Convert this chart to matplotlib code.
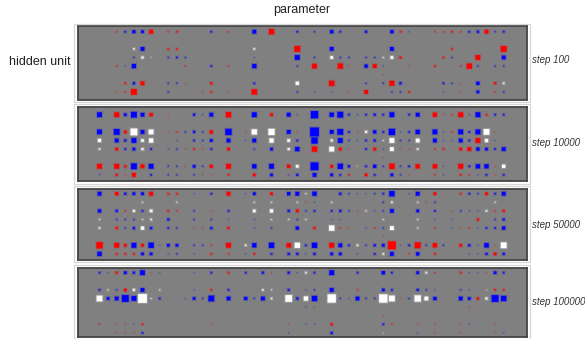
import matplotlib
matplotlib.use("Agg")
import matplotlib.pyplot as plt
from matplotlib.patches import Rectangle

plt.rcParams['font.family'] = ['Liberation Sans', 'DejaVu Sans']

W, H = 585, 339
N_COLS, N_ROWS = 52, 8
COLOURS = {'r': '#ff0000', 'b': '#0000ff', 'w': '#ffffff'}

step_labels = ['step 100', 'step 10000', 'step 50000', 'step 100000']

# Each entry: (column, colour, weight magnitude); one list per hidden unit (row).
step100 = [
    [(4,'r',1.5),(5,'b',2),(6,'b',3.3),(7,'b',3),(8,'r',4.2),(10,'r',1.5),(11,'r',2),(15,'b',2),(17,'r',1.5),(20,'b',4),(22,'r',5.5),(25,'b',2),
     (27,'b',1.5),(29,'b',3.5),(30,'b',2),(33,'b',2.5),(36,'b',3.5),(37,'r',2),(38,'b',1),(41,'r',1.5),(42,'r',1.5),(43,'r',2),(44,'r',1.5),(45,'b',2),(46,'b',2.5),(47,'r',4),(48,'b',1.5),(49,'b',2)],
    [],
    [(6,'w',2),(7,'b',4),(10,'r',2),(11,'r',2),(20,'w',2),(25,'r',6),(29,'b',4),(36,'b',4),(43,'r',2),(49,'r',6)],
    [(6,'b',1.5),(7,'w',2.5),(8,'w',1),(10,'b',1.5),(11,'b',2),(12,'b',1.5),(20,'b',1),(25,'b',5),(27,'b',1.5),(29,'w',3),(30,'b',1.5),(31,'b',1.5),(33,'b',1.5),(34,'b',1.5),(35,'w',1.5),(36,'w',3),(37,'r',2.5),(42,'r',2),(43,'b',1.5),(46,'r',5),(49,'b',4)],
    [(4,'r',1.5),(5,'b',1),(6,'b',4.5),(12,'r',1.5),(15,'b',2),(17,'r',1.5),(20,'b',4.5),(25,'b',1.5),(27,'r',5),(30,'r',5.5),(31,'r',1),(33,'b',3.5),(34,'r',4),(35,'b',1),(38,'r',1),(41,'r',2),(44,'r',1.5),(45,'r',5.5),(46,'b',1.5),(48,'b',1.5),(49,'b',1.5)],
    [(35,'r',1)],
    [(5,'r',2),(6,'b',2.5),(7,'r',4),(10,'b',1.5),(11,'b',1.5),(12,'r',1),(15,'r',2.5),(20,'b',2),(25,'w',3.5),(29,'r',5.5),(33,'b',1.5),(35,'b',1.5),(36,'r',5),(37,'b',2.5),(42,'b',2),(43,'b',1.5),(44,'r',1),(46,'b',3.5),(48,'r',2.5),(49,'w',2)],
    [(4,'r',1),(5,'r',1.5),(6,'r',6),(10,'b',1.5),(14,'r',1),(15,'r',2),(17,'r',1),(20,'r',5.5),(25,'b',1.5),(27,'b',1),(29,'b',1),(31,'r',1),(33,'r',4),(36,'b',1.5),(37,'b',1.5),(38,'r',2),(42,'b',1),(44,'r',1),(46,'b',3),(48,'r',1.5),(49,'b',1.5)],
]

step10000 = [
    [(2,'b',5),(4,'r',5),(5,'b',3),(6,'b',6),(7,'b',4),(8,'r',3.5),(10,'r',1),(13,'b',2.5),(14,'b',1),(15,'b',4),(17,'r',5.5),(20,'b',5),(22,'r',3),(24,'b',4),(25,'b',1),
     (27,'b',7.5),(29,'b',4.5),(30,'b',6),(31,'b',2),(32,'b',1),(33,'b',2),(34,'b',2.5),(35,'b',2),(36,'b',5),(38,'b',2),(39,'b',4),(41,'r',4.5),(42,'r',1),(43,'r',1.5),(44,'r',5),(45,'b',1),(46,'b',5),(47,'r',2),(48,'b',2),(49,'b',2)],
    [],
    [(2,'b',5),(4,'b',6),(5,'r',3),(6,'w',7),(7,'b',4),(8,'w',5),(10,'r',1),(11,'r',1.5),(12,'b',1.5),(13,'b',2.5),(14,'b',1.5),(15,'r',3.5),(17,'b',6.5),(19,'r',1),(20,'w',5.5),(22,'w',6.5),(24,'b',4),(25,'r',1),
     (27,'b',9),(29,'b',4),(30,'b',6),(31,'b',2),(32,'r',1),(33,'w',2.5),(34,'b',3.5),(35,'b',2),(36,'b',6.5),(37,'b',1),(38,'b',2),(39,'b',4.5),(41,'b',5),(42,'b',1),(43,'r',1.5),(44,'b',5),(45,'b',2),(46,'b',5),(47,'w',6),(48,'r',1)],
    [(2,'w',3.5),(4,'b',4),(5,'b',2.5),(6,'b',5),(7,'w',3),(8,'w',4.5),(11,'b',1),(13,'b',2),(14,'b',1.5),(15,'b',3),(17,'b',4),(19,'b',1),(20,'b',4),(22,'w',4.5),(24,'w',3),(25,'b',2),
     (27,'b',6.5),(29,'w',2.5),(30,'b',5),(31,'b',1.5),(32,'b',1),(33,'b',2),(34,'b',2.5),(35,'w',1.5),(36,'w',5),(37,'b',1.5),(38,'b',1.5),(39,'w',4),(41,'b',4),(42,'b',1),(43,'b',1),(44,'b',4),(45,'b',2),(46,'r',5),(47,'w',3.5),(48,'b',1)],
    [(2,'w',2),(4,'r',3),(5,'b',2),(6,'b',3),(7,'w',2.5),(8,'b',2),(10,'b',1),(11,'b',1.5),(12,'r',1),(13,'r',2),(14,'r',1),(15,'b',2),(17,'r',3),(20,'b',1.5),(22,'b',3),(24,'w',2.5),(25,'b',4.5),
     (27,'r',5.5),(29,'w',5),(30,'r',3),(31,'r',1),(33,'b',2),(34,'r',3),(35,'b',1),(36,'w',4),(37,'r',1),(38,'r',1),(39,'w',2),(41,'r',1.5),(42,'r',2),(44,'r',3),(45,'r',4),(46,'b',3.5),(47,'b',3),(48,'b',2),(49,'b',4)],
    [(35,'r',1)],
    [(2,'r',5),(4,'r',5),(5,'r',2.5),(6,'b',6),(7,'r',4),(8,'b',5),(10,'b',1.5),(11,'b',1.5),(12,'r',1),(13,'b',3),(14,'b',1.5),(15,'r',3.3),(17,'r',5),(20,'b',4.5),(22,'b',5),(24,'r',3.5),(25,'w',3),
     (27,'b',8),(29,'r',3),(30,'b',5.5),(31,'b',2.5),(32,'w',1),(33,'b',2),(34,'b',3.5),(35,'b',1.5),(36,'r',5.5),(37,'b',1.5),(38,'b',2),(39,'r',4.5),(41,'r',4.5),(42,'b',1),(44,'r',5),(45,'b',2),(46,'b',4.5),(47,'b',4.5),(48,'r',1),(49,'w',3.5)],
    [(2,'b',1),(4,'r',2.5),(5,'r',1),(6,'r',4),(8,'b',2),(10,'b',1.5),(11,'b',1.5),(13,'b',1.5),(14,'r',1),(15,'r',1),(17,'r',2),(20,'r',3),(22,'b',3),(24,'b',1),(25,'b',2.5),
     (27,'b',4),(29,'b',3),(30,'b',2),(31,'r',2),(33,'r',3),(34,'b',2),(36,'b',3),(37,'b',1.5),(38,'r',1),(41,'r',1.5),(42,'b',1),(44,'r',2),(45,'r',1.5),(46,'b',1),(47,'b',2),(48,'r',1),(49,'b',2)],
]

step50000 = [
    [(2,'b',4),(4,'r',3.5),(5,'b',2.5),(6,'b',3),(7,'b',3),(8,'r',4),(10,'r',2),(11,'r',2),(13,'b',1),(15,'b',2),(17,'r',4),(19,'b',1),(20,'b',3),(22,'r',3),(24,'b',3.5),(25,'b',4),(26,'w',1.5),
     (27,'b',4.5),(30,'b',2.5),(31,'b',1.5),(32,'b',1),(33,'b',1),(34,'b',1.5),(35,'b',2),(36,'b',5.5),(38,'b',1),(39,'b',4),(41,'r',3),(44,'r',2),(45,'b',2),(46,'b',1.5),(47,'r',3),(48,'b',2),(49,'b',4)],
    [(7,'w',1.5),(11,'w',1.5),(20,'w',1.5),(22,'w',1.5),(25,'w',1.5),(26,'r',1),(27,'b',1),(29,'w',1.5),(35,'b',1.5),(36,'w',2),(39,'w',1.5),(40,'r',1),(41,'b',1.5),(48,'w',1.5)],
    [(2,'b',3.5),(4,'b',2.5),(5,'r',1.5),(6,'w',2.5),(7,'b',2),(8,'w',3),(10,'r',2),(11,'r',1.5),(13,'b',1.5),(15,'r',1),(17,'b',2),(20,'w',3),(22,'w',3.5),(24,'b',2.5),(25,'r',3),(26,'b',1.5),
     (27,'b',2),(29,'b',2),(30,'b',2.5),(31,'b',1.5),(32,'r',1),(33,'w',1.5),(34,'b',1),(35,'b',1.5),(36,'b',4),(39,'b',3),(41,'b',2),(43,'r',1),(44,'b',1.5),(45,'b',1),(46,'b',1),(47,'w',2),(48,'r',1.5),(49,'r',2.5)],
    [(2,'w',1.5),(4,'b',1.5),(5,'b',1.5),(6,'b',1.5),(7,'w',1.5),(8,'w',2),(10,'b',2.5),(13,'b',1.5),(15,'b',1.5),(17,'b',1),(20,'b',1),(22,'w',1.5),(24,'w',1.5),(25,'b',1.5),(26,'w',1.5),
     (29,'b',1),(30,'b',1),(35,'w',1.5),(39,'w',1.5),(41,'b',1),(43,'b',1),(46,'r',2.5),(48,'b',1.5),(49,'b',2.5)],
    [(2,'w',2),(4,'r',2.5),(5,'b',1.5),(6,'b',2.5),(7,'w',3.5),(8,'b',2.5),(10,'b',2),(11,'b',1.5),(13,'r',1),(14,'r',1),(15,'b',2.5),(17,'r',2.5),(20,'b',1),(22,'b',1.5),(25,'b',3.5),
     (27,'r',2.5),(29,'w',5.5),(30,'r',1.5),(31,'r',1),(33,'b',1),(34,'r',1.5),(35,'b',1.5),(36,'w',4),(39,'w',1.5),(41,'r',1.5),(43,'b',1),(44,'r',1),(45,'r',1.5),(46,'b',1),(47,'b',2),(48,'b',2),(49,'b',3.5)],
    [(35,'r',1)],
    [(2,'r',6.5),(4,'r',5),(5,'r',3),(6,'b',5),(7,'r',3),(8,'b',5.5),(9,'b',1),(10,'b',3),(11,'b',3),(13,'b',1.5),(14,'b',1.5),(15,'r',1.5),(17,'r',5),(19,'w',2),(20,'b',4.5),(22,'b',5.5),(24,'r',4.5),(25,'w',5.5),(26,'b',2),
     (27,'b',5.5),(29,'r',5),(30,'b',4),(31,'b',2),(32,'w',2),(33,'b',1.5),(34,'b',2.5),(35,'b',3),(36,'r',8),(37,'b',1),(38,'b',2),(39,'r',6),(40,'b',1.5),(41,'r',4.5),(42,'b',1.5),(44,'r',3),(45,'b',2.5),(46,'b',1),(47,'b',4.7),(48,'r',1),(49,'w',6)],
    [(2,'b',4.5),(4,'r',2),(5,'r',2),(6,'r',2),(7,'b',3),(8,'b',3),(10,'b',1),(11,'b',1.5),(13,'b',1),(15,'r',2),(17,'r',1.5),(19,'b',1),(20,'r',2),(22,'b',2),(24,'b',2.5),(25,'b',2.5),(26,'b',1),
     (27,'b',2.5),(29,'b',3),(30,'b',3),(32,'b',1),(34,'b',2),(35,'w',2),(36,'b',4),(38,'r',1.5),(39,'b',3.5),(41,'r',2),(45,'b',1),(46,'b',1),(47,'b',2.5),(48,'r',3),(49,'b',2.5)],
]

step100000 = [
    [(2,'b',2),(3,'b',1),(4,'r',2.5),(5,'b',3),(6,'b',2.5),(7,'b',5),(8,'r',1),(9,'b',1),(13,'b',1),(15,'b',2),(17,'r',2),(19,'b',2),(21,'b',2.5),(22,'r',1),(24,'b',2.5),(25,'b',1),(26,'w',2),
     (27,'b',2),(29,'b',5),(32,'b',2),(35,'b',3.5),(36,'b',2),(39,'b',3),(40,'w',2),(41,'r',1.5),(44,'r',2),(45,'b',1),(46,'b',1),(47,'r',1),(48,'b',3),(49,'b',2)],
    [],
    [(2,'b',2),(3,'w',1.5),(4,'b',1.5),(5,'r',3),(6,'w',2.5),(7,'b',4),(9,'w',1.5),(13,'b',1),(15,'r',2),(17,'b',2),(21,'w',2),(22,'w',1.5),(24,'b',2.3),(26,'b',1),
     (27,'b',1.5),(29,'b',4),(32,'r',1.5),(35,'b',3),(36,'b',2),(39,'b',2.5),(40,'b',1.5),(41,'b',1),(44,'b',1.5),(45,'b',1),(47,'w',1),(48,'r',2),(49,'r',2)],
    [(2,'w',6),(3,'b',3),(4,'b',4),(5,'b',7),(6,'b',5),(7,'w',9),(8,'w',1.5),(9,'b',2),(12,'b',1),(13,'b',3),(14,'b',1.5),(15,'b',6),(17,'b',4),(19,'b',3.5),(20,'b',1.5),(21,'b',4),(22,'w',2),(24,'w',7),(25,'b',2.5),(26,'w',4.5),
     (27,'b',5.5),(29,'w',8.5),(30,'b',1.5),(31,'b',1),(32,'b',4),(33,'b',1.5),(34,'b',1.5),(35,'w',8.5),(36,'w',6),(37,'r',1),(38,'b',1.5),(39,'w',6.5),(40,'w',4),(41,'b',3.5),(44,'b',4),(45,'b',3),(46,'r',2.5),(47,'w',2.5),(48,'b',7),(49,'b',5.5)],
    [(26,'b',1),(27,'r',1),(45,'r',1)],
    [(35,'r',1)],
    [(2,'r',1.5),(4,'r',1),(5,'r',1),(6,'b',1),(7,'r',2),(15,'r',1),(24,'r',1),(26,'b',1),(27,'b',1),(29,'r',2.5),(35,'b',2),(36,'r',1.5),(39,'r',1),(41,'r',1),(44,'r',1),(45,'b',1),(48,'r',1)],
    [(4,'r',1),(5,'r',1),(6,'r',1),(7,'b',2),(24,'b',1),(29,'b',2.5),(35,'w',1),(39,'b',1),(41,'r',1),(44,'r',1),(48,'r',1),(49,'b',1)],
]

panels = [step100, step10000, step50000, step100000]

# Layout in pixels
CELL = 8.6
COL0_X = 82.3
PANEL_LEFT, PANEL_RIGHT = 77.5, 527.0
panel_tops = [26.0, 106.5, 188.5, 268.0]
panel_bottoms = [99.5, 180.5, 260.0, 337.0]
row0_y = [31.7, 114.7, 193.7, 272.7]
frame_tops = [23.5, 104.3, 186.0, 265.0]
frame_bottoms = [102.0, 183.5, 262.0, 342.0]
label_y = [60, 142.7, 224.5, 302.3]

fig = plt.figure(figsize=(W / 100, H / 100), dpi=100, facecolor='white')

for ft, fb in zip(frame_tops, frame_bottoms):
    fig.add_artist(Rectangle((73.5 / W, 1 - fb / H), (529.5 - 73.5) / W, (fb - ft) / H,
                             transform=fig.transFigure, fill=False,
                             edgecolor='#d6d6d6', linewidth=0.9))


def add_square(ax, c, r, side_px, colour, alpha):
    s = side_px / CELL
    ax.add_patch(Rectangle((c - s / 2, r - s / 2), s, s, facecolor=colour,
                           edgecolor='none', alpha=alpha, snap=False))


for i, panel in enumerate(panels):
    top, bottom = panel_tops[i], panel_bottoms[i]
    ax = fig.add_axes([PANEL_LEFT / W, 1 - bottom / H,
                       (PANEL_RIGHT - PANEL_LEFT) / W, (bottom - top) / H])
    ax.set_facecolor('#808080')
    ax.set_xlim((PANEL_LEFT - COL0_X) / CELL, (PANEL_RIGHT - COL0_X) / CELL)
    ax.set_ylim((bottom - row0_y[i]) / CELL, (top - row0_y[i]) / CELL)
    ax.set_xticks([])
    ax.set_yticks([])
    for s in ax.spines.values():
        s.set_color('#444444')
        s.set_linewidth(1.3)
    for r, row in enumerate(panel):
        for c, colour, size in row:
            col = COLOURS[colour]
            # soft outer edge, then a core whose strength falls with size
            add_square(ax, c, r, size + 1.6, col, min(0.22, 0.10 * size))
            add_square(ax, c, r, max(size - 0.2, 0.8), col, min(1.0, 0.22 + 0.24 * size))
    fig.text(532 / W, 1 - label_y[i] / H, step_labels[i], style='italic',
             fontsize=7, color='#333333', ha='left', va='center')

fig.text(302 / W, 1 - 10 / H, 'parameter', fontsize=9, color='#222222', ha='center', va='center')
fig.text(9 / W, 1 - 62 / H, 'hidden unit', fontsize=9, color='#222222', ha='left', va='center')

fig.savefig('out.png', dpi=100, facecolor='white')
